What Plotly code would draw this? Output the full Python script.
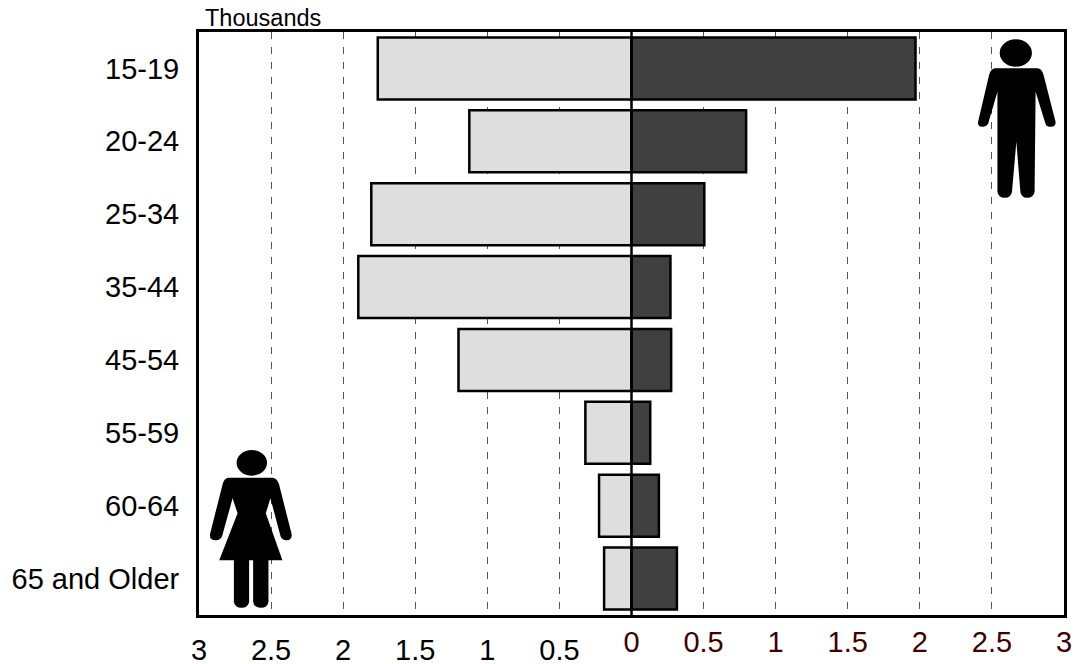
import plotly.graph_objects as go

age_groups = ["15-19", "20-24", "25-34", "35-44", "45-54", "55-59", "60-64", "65 and Older"]
female = [1.76, 1.125, 1.805, 1.895, 1.20, 0.32, 0.225, 0.19]
male = [1.97, 0.795, 0.505, 0.27, 0.275, 0.13, 0.19, 0.315]
left_ticks = [-3, -2.5, -2, -1.5, -1, -0.5]
left_labels = ["3", "2.5", "2", "1.5", "1", "0.5"]
right_ticks = [0, 0.5, 1, 1.5, 2, 2.5, 3]
right_labels = ["0", "0.5", "1", "1.5", "2", "2.5", "3"]

W, H = 1075, 664
L, R, T, B = 199, 1067, 32, 615
FONT = "Liberation Sans, Arial, sans-serif"


def px(x):
    return (x - L) / (R - L)


def py(y):
    return (B - y) / (B - T)


def path(cmds, dx=0.0):
    out = []
    for c in cmds:
        pts = " ".join(f"{px(c[i] + dx):.5f},{py(c[i + 1]):.5f}" for i in range(1, len(c), 2))
        out.append(f"{c[0]} {pts}")
    return " ".join(out) + " Z"


def icon(d, dx=0.0):
    return dict(type="path", xref="paper", yref="paper", path=path(d, dx), fillcolor="black",
                line=dict(width=0), layer="above")


def head(x0, x1, y0, y1):
    return dict(type="circle", xref="paper", yref="paper", x0=px(x0), x1=px(x1), y0=py(y0), y1=py(y1),
                fillcolor="black", line=dict(width=0), layer="above")


man = [
    ("M", 995, 68.3), ("L", 1038.3, 68.3), ("Q", 1042.5, 69, 1044, 75),
    ("L", 1056, 121.7), ("Q", 1056.5, 127, 1050.7, 126.7), ("Q", 1047, 127, 1046, 124),
    ("L", 1036, 91.7), ("L", 1035, 191.7), ("Q", 1034, 197.7, 1027.7, 197.7), ("Q", 1021.5, 197.7, 1020.7, 191.7),
    ("L", 1016.7, 141.7), ("L", 1012.3, 191.7), ("Q", 1011.5, 197.7, 1005, 197.7), ("Q", 998.5, 197.7, 997.7, 191.7),
    ("L", 997.7, 91.7), ("L", 988.3, 124), ("Q", 986.5, 127, 982.7, 126.7), ("Q", 977.5, 127, 978.3, 121.7),
    ("L", 989.3, 75), ("Q", 991, 69, 995, 68.3),
]
woman = [
    ("M", 228.3, 477.7), ("L", 273.3, 477.7), ("Q", 277.5, 478.5, 279.3, 484.3),
    ("L", 292, 534.3), ("Q", 292.5, 540.5, 286.7, 540.3), ("Q", 282, 540, 280.7, 535.7),
    ("L", 270.7, 498.3), ("L", 266, 513.3), ("L", 282.7, 560.3), ("L", 219.3, 560.3), ("L", 237.7, 513.3),
    ("L", 232.7, 498.3), ("L", 222.3, 535.7), ("Q", 221, 540, 216, 540.3), ("Q", 209.5, 540.5, 210, 534.3),
    ("L", 222.7, 484.3), ("Q", 224, 478.5, 228.3, 477.7),
]
leg_a = [("M", 234, 558), ("L", 249.3, 558), ("L", 249.3, 601.7), ("Q", 248.5, 607.7, 241.7, 607.7),
         ("Q", 234.8, 607.7, 234, 601.7)]
leg_b = [("M", 253.3, 558), ("L", 268.7, 558), ("L", 268.7, 601.7), ("Q", 268, 607.7, 261, 607.7),
         ("Q", 254, 607.7, 253.3, 601.7)]

fig = go.Figure()
fig.add_trace(go.Bar(y=age_groups, x=[-v for v in female], orientation="h", xaxis="x", yaxis="y",
                     marker=dict(color="#dedede", line=dict(color="black", width=2.5)), showlegend=False))
fig.add_trace(go.Bar(y=age_groups, x=male, orientation="h", xaxis="x2", yaxis="y",
                     marker=dict(color="#404040", line=dict(color="black", width=2.5)), showlegend=False))

grid = dict(showgrid=True, gridcolor="#555555", gridwidth=1.2, griddash="7px,8px", zeroline=False, range=[-3, 3],
            tickmode="array", ticks="", automargin=False, ticklabelstandoff=7)
fig.update_layout(
    width=W, height=H, autosize=False,
    margin=dict(l=L, r=W - R, t=T, b=H - B, pad=0),
    paper_bgcolor="white", plot_bgcolor="white",
    bargap=0.15,
    font=dict(family=FONT, color="black"),
    xaxis=dict(**grid, side="bottom", tickvals=left_ticks, ticktext=left_labels,
               tickfont=dict(size=29, color="black"),
               showline=True, linecolor="black", linewidth=3, mirror=True),
    xaxis2=dict(**grid, overlaying="x", side="bottom", anchor="y", tickvals=right_ticks, ticktext=right_labels,
                tickfont=dict(size=29, color="#400000"), showline=False),
    yaxis=dict(type="category", categoryorder="array", categoryarray=age_groups, autorange="reversed",
               showgrid=False, zeroline=False, ticks="outside", ticklen=11, tickcolor="rgba(0,0,0,0)",
               tickfont=dict(size=29, color="black"),
               showline=True, linecolor="black", linewidth=3, mirror=True),
    shapes=[
        dict(type="line", xref="x", yref="paper", x0=0, x1=0, y0=0, y1=1, line=dict(color="black", width=2.5),
             layer="above"),
        head(1002.5, 1034.8, 39.3, 66.7), icon(man, 2.5),
        head(236.7, 267.3, 450, 475.7), icon(woman), icon(leg_a), icon(leg_b),
    ],
    annotations=[dict(text="Thousands", xref="paper", yref="paper", x=px(204), y=1, xanchor="left", yanchor="bottom",
                      showarrow=False, font=dict(size=23.5, color="black"), borderpad=0, yshift=0)],
)
fig.write_html("out.html", config={"displayModeBar": False}, post_script="document.body.style.margin='0';")
